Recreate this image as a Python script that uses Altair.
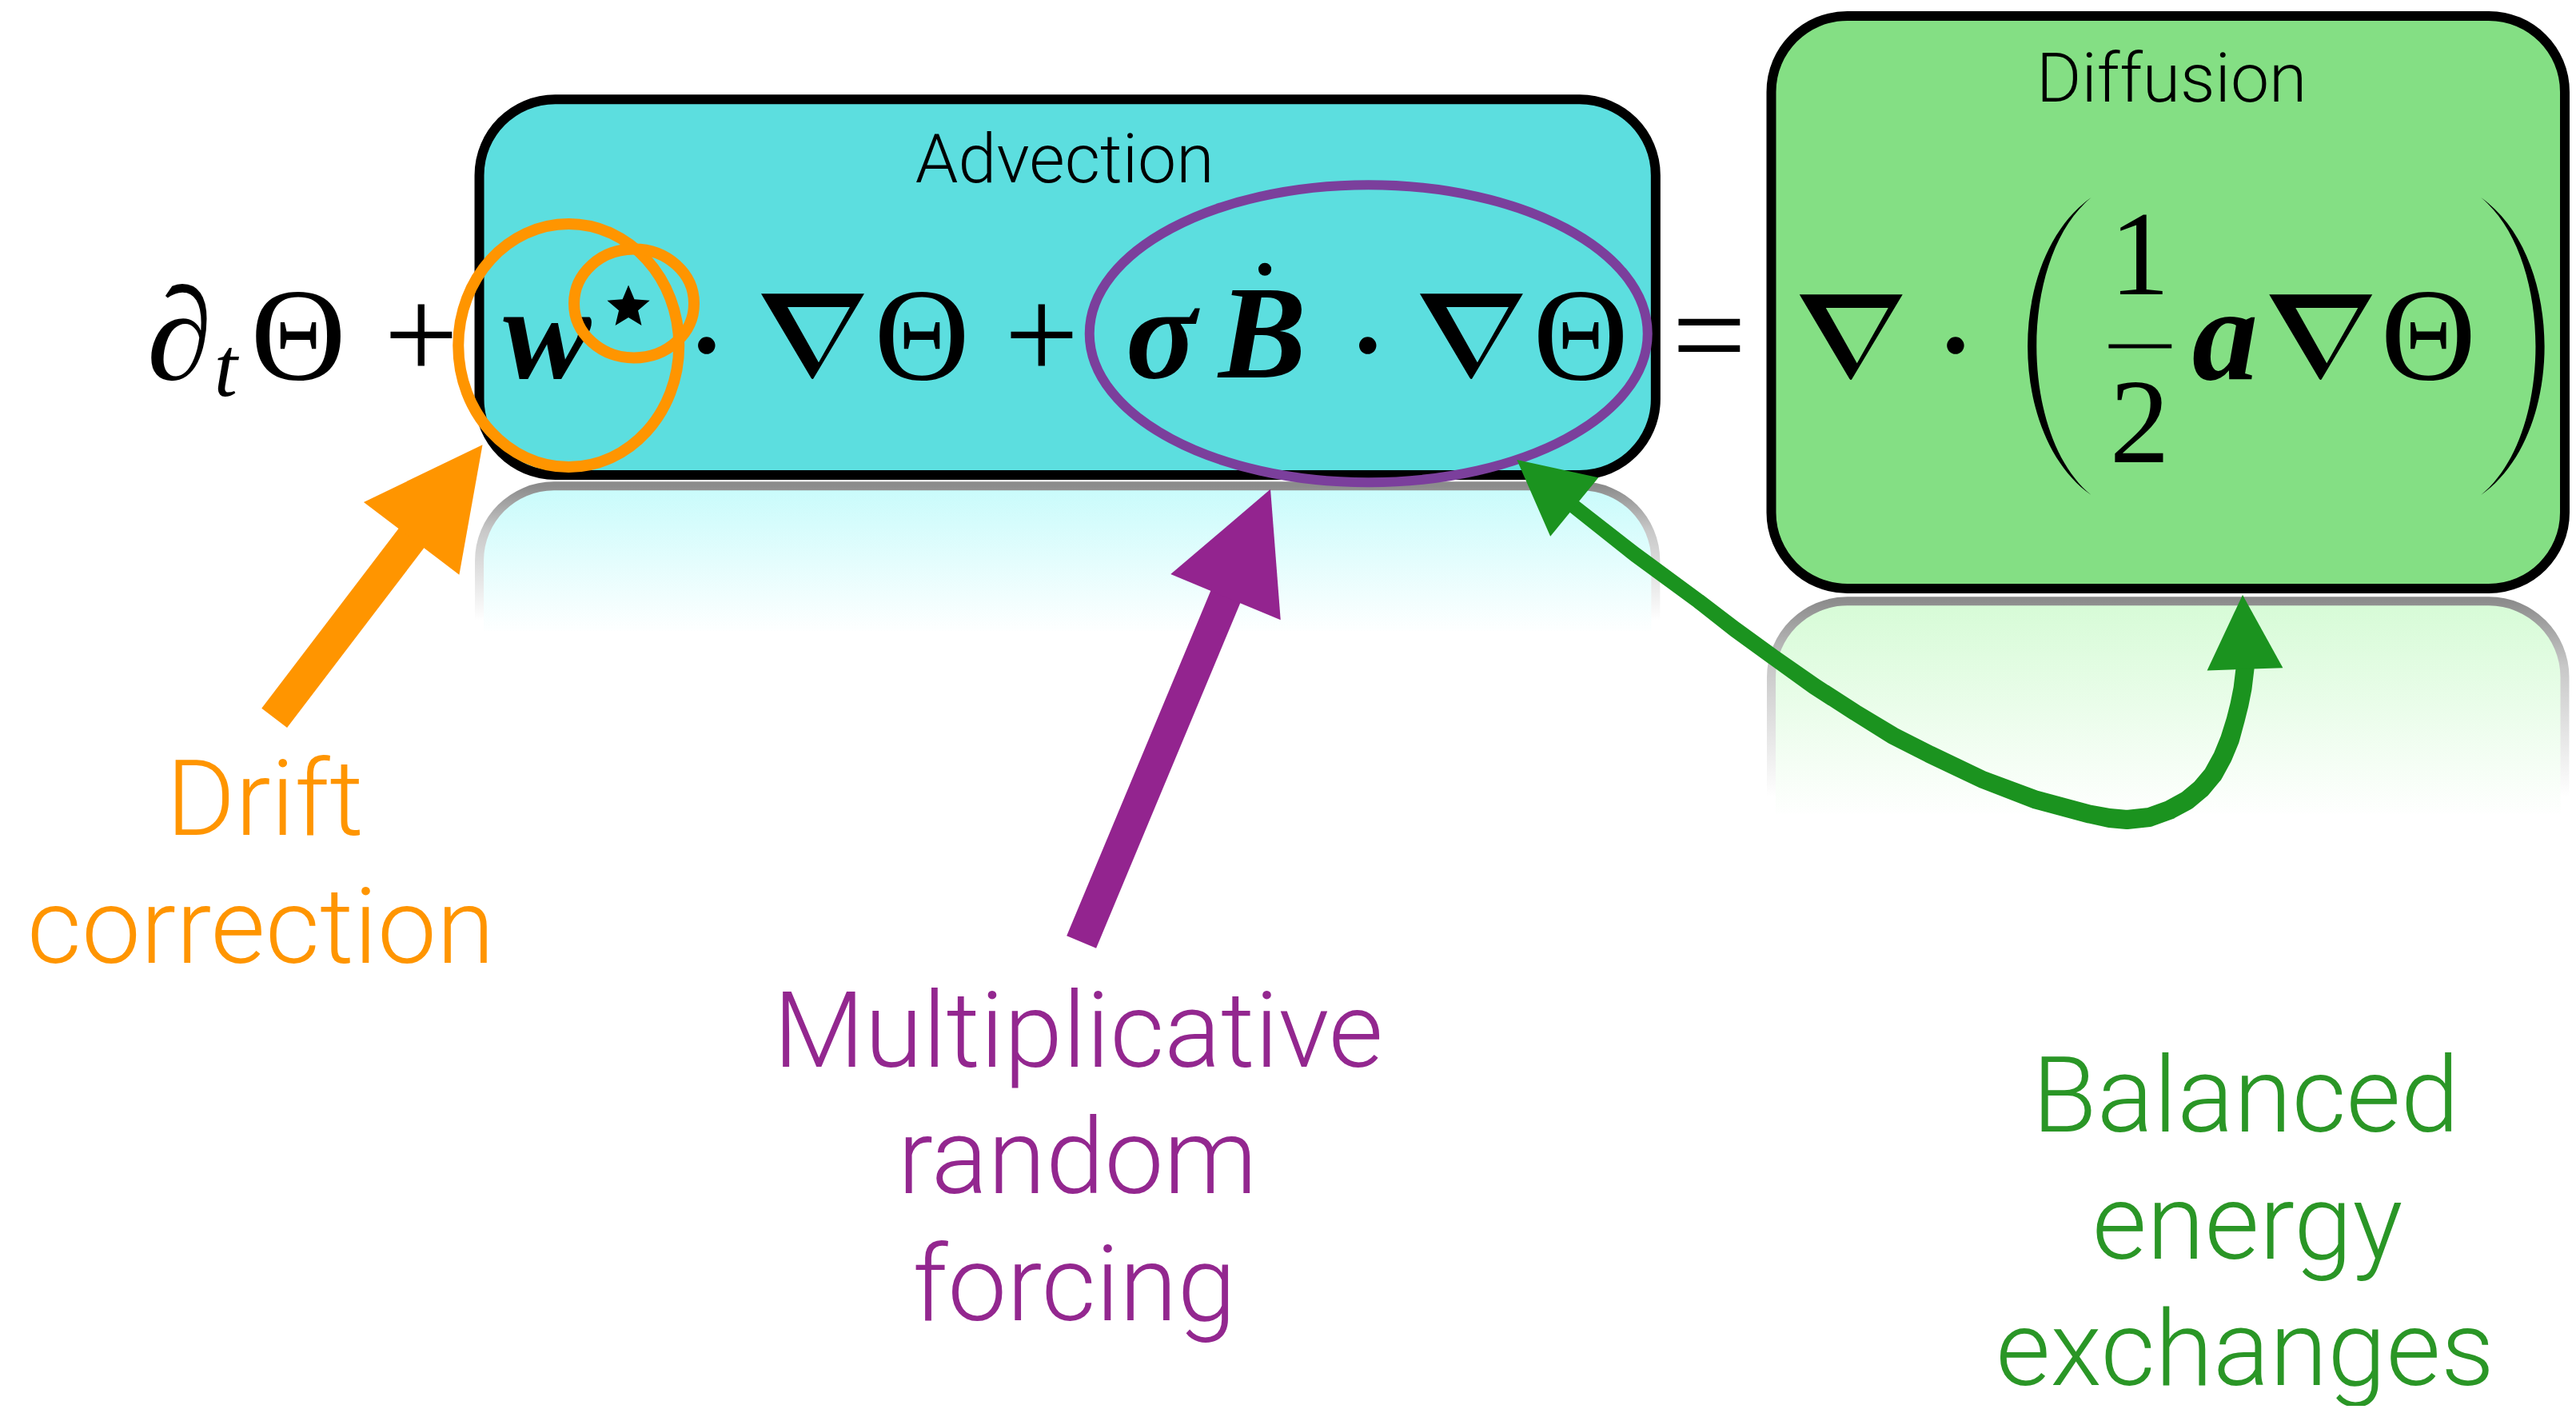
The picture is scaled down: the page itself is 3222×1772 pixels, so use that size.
import math
import altair as alt
import pandas as pd

# ---------------- data (diagram coordinates, full-size pixel space) ----------------
box_name = ["Advection", "Diffusion"]
box_x0 = [601, 2221]
box_x1 = [2076, 3216]
box_y0 = [125, 20]
box_y1 = [598, 741]
refl_y0 = [612, 757]
refl_y1 = [800, 1030]
title_x = [1335, 2723]
title_y = [230, 128]

# equation glyphs
op_text = ["Θ", "+", "Θ", "+", "Θ", "=", "Θ"]
op_x = [374, 528, 1156, 1306, 1982, 2143, 3045]
op_y = [477, 477, 477, 477, 477, 477, 477]
num_text = ["1", "2"]
num_x = [2683, 2683]
num_y = [370, 582]
ital_text = ["∂", "t"]
ital_x = [225, 283]
ital_y = [477, 498]
bi_text = ["w", "σ", "B", "a"]
bi_x = [686, 1456, 1583, 2790]
bi_y = [475, 475, 475, 477]
nabla_x = [1019, 1845, 2321, 2910]
nabla_y = [424, 424, 425, 425]
cdot_x = [886, 1715, 2452]
cdot_y = [435, 435, 435]
bdot_x = [1586]
bdot_y = [339]
star_x = [788]
star_y = [387]
frac_x0, frac_x1, frac_y = [2644], [2723], [436]
paren_x = [2583, 3150]
paren_y = [436, 436]

# highlight ellipses
ell_cx = [713, 795, 1716]
ell_cy = [435, 382, 420]
ell_rx = [138, 75, 349]
ell_ry = [152, 68, 186]

# straight arrows (tail -> tip)
arr_name = ["drift", "forcing"]
arr_tail_x = [344, 1356]
arr_tail_y = [904, 1186]
arr_tip_x = [605, 1593]
arr_tip_y = [560, 616]

# curved double arrow (centre line and stroke width)
g_x = [1974, 2050, 2130, 2175, 2223, 2275, 2326, 2373, 2420, 2487, 2553, 2620, 2645, 2667,
       2695, 2720, 2742, 2760, 2775, 2787, 2796, 2803, 2808, 2812, 2815]
g_y = [638, 698, 757, 792, 827, 864, 897, 926, 950, 982, 1007, 1025, 1030, 1032,
       1029, 1020, 1008, 993, 975, 953, 931, 907, 887, 867, 842]
g_w = [18, 19, 19, 20, 20, 21, 21, 22, 22, 22, 23, 23, 24, 24,
       24, 24, 24, 24, 24, 24, 24, 23, 23, 23, 23]
g_tip_x = [1902, 2812]
g_tip_y = [579, 749]
g_base_x = [1974, 2815]
g_base_y = [638, 842]

# annotation labels
lab_text = ["Drift", "correction", "Multiplicative", "random", "forcing",
            "Balanced", "energy", "exchanges"]
lab_group = ["drift", "drift", "forcing", "forcing", "forcing",
             "energy", "energy", "energy"]
lab_x = [332, 327, 1352, 1351, 1347, 2816, 2818, 2815]
lab_y = [1051, 1212, 1343, 1502, 1662, 1425, 1585, 1744]

# ---------------- styles ----------------
CYAN = "#5cdedf"
GREENBOX = "#84df84"
ORANGE = "#ff9500"
PURPLE_ARROW = "#93248f"
PURPLE_ELL = "#7b3f9c"
GREEN_ARROW = "#1b931f"
label_color = {"drift": "#ff9500", "forcing": "#93278f", "energy": "#2a9626"}
box_fill = {"Advection": CYAN, "Diffusion": GREENBOX}
refl_fill = {"Advection": "#c8fbfb", "Diffusion": "#d6fbd6"}

W, H = 3206, 1750
X0, Y0 = 8, 8
xs = alt.Scale(domain=[X0, X0 + W], nice=False, zero=False)
ys = alt.Scale(domain=[Y0, Y0 + H], nice=False, zero=False, reverse=True)


def X(f):
    return alt.X(f, type="quantitative", scale=xs, axis=None)


def Y(f):
    return alt.Y(f, type="quantitative", scale=ys, axis=None)


def ellipse_path(a, b):
    k = 0.5523
    return (f"M {a:.4f} 0 C {a:.4f} {k*b:.4f} {k*a:.4f} {b:.4f} 0 {b:.4f} "
            f"C {-k*a:.4f} {b:.4f} {-a:.4f} {k*b:.4f} {-a:.4f} 0 "
            f"C {-a:.4f} {-k*b:.4f} {-k*a:.4f} {-b:.4f} 0 {-b:.4f} "
            f"C {k*a:.4f} {-b:.4f} {a:.4f} {-k*b:.4f} {a:.4f} 0 Z")


def star_path(inner):
    pts = []
    for i in range(10):
        r = 1.0 if i % 2 == 0 else inner
        ang = math.pi / 2 - i * math.pi / 5
        pts.append(f"{r*math.cos(ang):.4f} {-r*math.sin(ang):.4f}")
    return "M " + " L ".join(pts) + " Z"


HEAD_PATH = "M 0 0 L 0.51 1 L -0.51 1 Z"
LPAREN = "M 0.21 -1 C -0.36 -0.6 -0.36 0.6 0.21 1 C -0.28 0.6 -0.28 -0.6 0.21 -1 Z"
RPAREN = "M -0.21 -1 C 0.36 -0.6 0.36 0.6 -0.21 1 C 0.28 0.6 0.28 -0.6 -0.21 -1 Z"
# bold nabla: outer triangle with a hollow (opposite winding) inner triangle
NABLA = ("M -1 -0.837 L 1 -0.837 L 0.02 0.80 Q 0 0.837 -0.03 0.80 Z "
         "M -0.488 -0.574 L 0.116 0.496 L 0.721 -0.574 Z")


def head_angle(tx, ty, bx, by):
    return math.degrees(math.atan2(tx - bx, -(ty - by))) % 360


layers = []

# reflections
for i, name in enumerate(box_name):
    df = pd.DataFrame({"x0": [box_x0[i]], "x1": [box_x1[i]],
                       "y0": [refl_y0[i]], "y1": [refl_y1[i]]})
    fill = alt.LinearGradient(gradient="linear", x1=0, x2=0, y1=0, y2=1,
                              stops=[alt.GradientStop(color=refl_fill[name], offset=0),
                                     alt.GradientStop(color="#ffffff", offset=1)])
    stroke = alt.LinearGradient(gradient="linear", x1=0, x2=0, y1=0, y2=1,
                                stops=[alt.GradientStop(color="#8c8c8c", offset=0),
                                       alt.GradientStop(color="#c8c8c8", offset=0.3),
                                       alt.GradientStop(color="#ffffff", offset=0.9)])
    layers.append(alt.Chart(df).mark_rect(
        fill=fill, stroke=stroke, strokeWidth=11,
        cornerRadiusTopLeft=95, cornerRadiusTopRight=95
    ).encode(x=X("x0"), x2="x1", y=Y("y0"), y2="y1"))

# boxes
box_df = pd.DataFrame({"name": box_name, "x0": box_x0, "x1": box_x1,
                       "y0": box_y0, "y1": box_y1})
box_df["fill"] = box_df["name"].map(box_fill)
layers.append(alt.Chart(box_df).mark_rect(
    cornerRadius=95, stroke="black", strokeWidth=12
).encode(x=X("x0"), x2="x1", y=Y("y0"), y2="y1",
         fill=alt.Fill("fill:N", scale=None)))

# box titles
title_df = pd.DataFrame({"t": box_name, "x": title_x, "y": title_y})
layers.append(alt.Chart(title_df).mark_text(
    font="Roboto", fontWeight=300, fontSize=86, align="center",
    baseline="alphabetic", color="black"
).encode(x=X("x"), y=Y("y"), text="t:N"))


# equation glyphs
def glyph_layer(texts, gx, gy, **kw):
    df = pd.DataFrame({"t": texts, "x": gx, "y": gy})
    return alt.Chart(df).mark_text(align="center", baseline="alphabetic",
                                   color="black", **kw).encode(
        x=X("x"), y=Y("y"), text="t:N")


layers.append(glyph_layer(op_text, op_x, op_y, font="Liberation Serif", fontSize=165))
layers.append(glyph_layer(num_text, num_x, num_y, font="Liberation Serif", fontSize=150))
layers.append(glyph_layer(ital_text[:1], ital_x[:1], ital_y[:1], font="Liberation Serif",
                          fontStyle="italic", fontSize=165))
layers.append(glyph_layer(ital_text[1:], ital_x[1:], ital_y[1:], font="Liberation Serif",
                          fontStyle="italic", fontSize=105))
layers.append(glyph_layer(bi_text, bi_x, bi_y, font="Liberation Serif",
                          fontStyle="italic", fontWeight="bold", fontSize=165))

# nablas
layers.append(alt.Chart(pd.DataFrame({"x": nabla_x, "y": nabla_y})).mark_point(
    shape=NABLA, size=129 ** 2, filled=True, opacity=1, color="black", strokeWidth=0
).encode(x=X("x"), y=Y("y")))

# dots
layers.append(alt.Chart(pd.DataFrame({"x": cdot_x, "y": cdot_y})).mark_circle(
    size=460, opacity=1, color="black").encode(x=X("x"), y=Y("y")))
layers.append(alt.Chart(pd.DataFrame({"x": bdot_x, "y": bdot_y})).mark_circle(
    size=260, opacity=1, color="black").encode(x=X("x"), y=Y("y")))
# star
layers.append(alt.Chart(pd.DataFrame({"x": star_x, "y": star_y})).mark_point(
    shape=star_path(0.45), size=(2 * 28) ** 2, filled=True, opacity=1,
    color="black", strokeWidth=0).encode(x=X("x"), y=Y("y")))
# fraction bar
layers.append(alt.Chart(pd.DataFrame({"x0": frac_x0, "x1": frac_x1, "y": frac_y})).mark_rule(
    color="black", strokeWidth=5).encode(x=X("x0"), x2="x1", y=Y("y")))
# parentheses
for i, p in enumerate([LPAREN, RPAREN]):
    layers.append(alt.Chart(pd.DataFrame({"x": [paren_x[i]], "y": [paren_y[i]]})).mark_point(
        shape=p, size=(2 * 186) ** 2, filled=True, opacity=1, color="black",
        strokeWidth=0).encode(x=X("x"), y=Y("y")))

# ellipses
ell_style = [(ORANGE, 14), (ORANGE, 14), (PURPLE_ELL, 12)]
for i in range(len(ell_cx)):
    m = max(ell_rx[i], ell_ry[i])
    col, sw = ell_style[i]
    layers.append(alt.Chart(pd.DataFrame({"x": [ell_cx[i]], "y": [ell_cy[i]]})).mark_point(
        shape=ellipse_path(ell_rx[i] / m, ell_ry[i] / m), size=(2 * m) ** 2,
        filled=False, opacity=1, stroke=col, strokeWidth=sw
    ).encode(x=X("x"), y=Y("y")))

# straight arrows
arr_style = {"drift": (ORANGE, 40, 147), "forcing": (PURPLE_ARROW, 40, 146)}
for i, name in enumerate(arr_name):
    col, sw, hl = arr_style[name]
    dx = arr_tip_x[i] - arr_tail_x[i]
    dy = arr_tip_y[i] - arr_tail_y[i]
    L = math.hypot(dx, dy)
    bx = arr_tip_x[i] - dx / L * hl
    by = arr_tip_y[i] - dy / L * hl
    shaft = pd.DataFrame({"x0": [arr_tail_x[i]], "y0": [arr_tail_y[i]],
                          "x1": [bx + dx / L * 4], "y1": [by + dy / L * 4]})
    layers.append(alt.Chart(shaft).mark_rule(color=col, strokeWidth=sw, strokeCap="butt").encode(
        x=X("x0"), y=Y("y0"), x2="x1", y2="y1"))
    head = pd.DataFrame({"x": [arr_tip_x[i]], "y": [arr_tip_y[i]],
                         "ang": [head_angle(arr_tip_x[i], arr_tip_y[i], bx, by)]})
    layers.append(alt.Chart(head).mark_point(
        shape=HEAD_PATH, size=(2 * hl) ** 2, filled=True, opacity=1, color=col, strokeWidth=0
    ).encode(x=X("x"), y=Y("y"), angle=alt.Angle("ang:Q", scale=None)))

# curved double arrow
trail_df = pd.DataFrame({"x": g_x, "y": g_y, "w": g_w, "i": list(range(len(g_x)))})
layers.append(alt.Chart(trail_df).mark_trail(color=GREEN_ARROW, opacity=1).encode(
    x=X("x"), y=Y("y"), size=alt.Size("w:Q", scale=None, legend=None),
    order="i:Q"))
ghead = pd.DataFrame({"x": g_tip_x, "y": g_tip_y,
                      "ang": [head_angle(g_tip_x[k], g_tip_y[k], g_base_x[k], g_base_y[k])
                              for k in range(2)]})
layers.append(alt.Chart(ghead).mark_point(
    shape=HEAD_PATH, size=(2 * 93) ** 2, filled=True, opacity=1, color=GREEN_ARROW, strokeWidth=0
).encode(x=X("x"), y=Y("y"), angle=alt.Angle("ang:Q", scale=None)))

# labels
lab_df = pd.DataFrame({"t": lab_text, "g": lab_group, "x": lab_x, "y": lab_y})
lab_df["c"] = lab_df["g"].map(label_color)
layers.append(alt.Chart(lab_df).mark_text(
    font="Roboto", fontWeight=300, fontSize=132, align="center", baseline="alphabetic"
).encode(x=X("x"), y=Y("y"), text="t:N", color=alt.Color("c:N", scale=None)))

chart = alt.layer(*layers).properties(
    width=W, height=H, padding=0,
    autosize=alt.AutoSizeParams(type="fit", contains="padding"),
    background="white"
).configure_view(stroke=None)

chart.save("out.html", embed_options={"renderer": "svg", "actions": False})
